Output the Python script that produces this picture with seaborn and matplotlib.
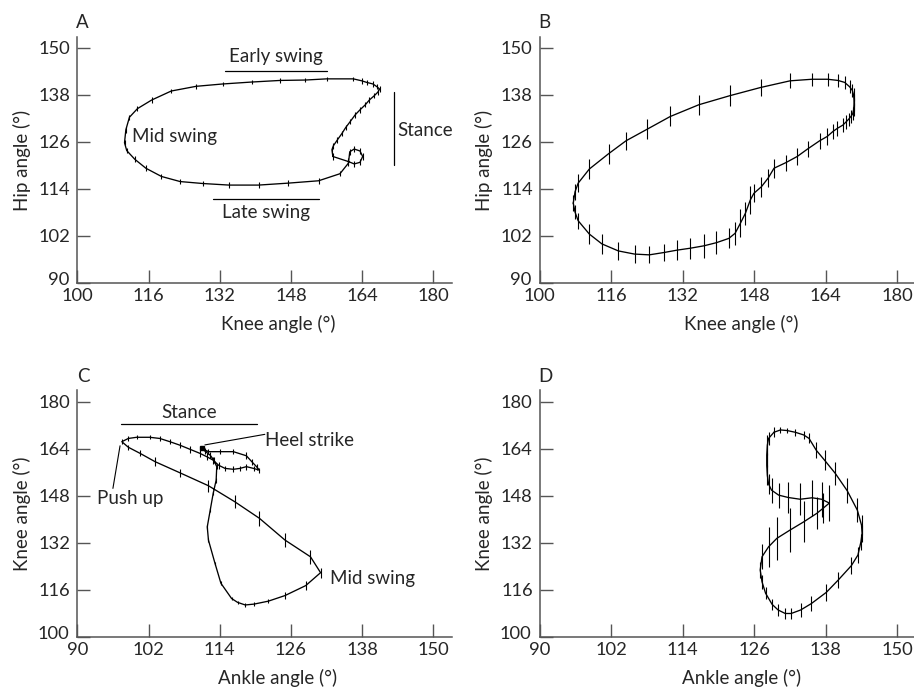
import matplotlib
matplotlib.use("Agg")
import matplotlib.pyplot as plt
import matplotlib.transforms as mtransforms
import numpy as np
import pandas as pd
import seaborn as sns

# --- panel A: hip vs knee (left) ---
a_knee = [157.4, 157.2, 157.5, 158.4, 159.4, 160.3, 161.3, 162.4, 163.5, 164.7, 165.6, 166.7, 167.5, 167.9,
          167.3, 166.4, 165.0, 163.9, 162.0, 156.0, 151.2, 145.6, 139.3, 132.7, 126.7, 121.1, 116.7, 113.5,
          111.7, 110.9, 110.6, 111.1, 112.9, 115.4, 118.9, 123.1, 128.2, 134.1, 140.7, 147.4, 154.2, 159.0,
          160.9, 161.2, 162.2, 163.5, 164.1, 163.5, 162.2, 160.9]
a_hip = [122.2, 123.9, 124.9, 126.4, 128.0, 129.6, 131.1, 132.8, 134.1, 135.4, 136.6, 137.7, 138.6, 139.4,
         140.0, 140.7, 141.1, 141.5, 142.0, 142.0, 141.7, 141.6, 141.2, 140.7, 140.1, 138.9, 136.6, 134.4,
         132.2, 129.0, 125.7, 123.7, 121.5, 119.2, 117.1, 115.8, 115.3, 114.9, 114.9, 115.4, 116.0, 117.8,
         120.5, 123.4, 124.1, 123.6, 122.2, 120.7, 120.3, 120.9]
a_sd = [0.8, 0.8, 0.7, 0.7, 0.7, 0.7, 0.7, 0.7, 0.7, 0.7, 0.7, 0.7, 0.7, 0.8,
        0.7, 0.7, 0.7, 0.7, 0.6, 0.6, 0.6, 0.6, 0.6, 0.6, 0.6, 0.6, 0.7, 0.7,
        0.7, 0.7, 0.7, 0.7, 0.7, 0.7, 0.7, 0.7, 0.7, 0.7, 0.7, 0.7, 0.7, 0.7,
        0.8, 0.8, 0.8, 0.8, 0.8, 0.8, 0.8, 0.8]

# --- panel B: hip vs knee (right) ---
b_knee = [107.5, 107.9, 108.6, 111.1, 115.4, 119.3, 124.1, 129.2, 135.6, 142.5,
          149.4, 156.0, 160.9, 164.4, 166.7, 168.2, 169.3, 169.9, 170.2, 170.3,
          170.3, 170.2, 170.0, 169.6, 169.1, 168.5, 167.8, 166.6, 165.6, 164.3,
          162.6, 159.9, 157.6, 155.0, 152.4, 151.1, 149.6, 147.9, 147.1, 146.0,
          144.9, 143.7, 142.3, 139.5, 136.7, 133.7, 130.7, 127.8, 124.5, 121.2,
          117.6, 113.9, 111.1, 108.6, 107.9]
b_hip = [110.3, 113.2, 115.4, 119.0, 122.9, 126.2, 129.2, 132.4, 135.4, 137.7,
         139.8, 141.5, 141.9, 141.9, 141.6, 141.1, 140.0, 139.1, 137.9, 136.6,
         135.4, 134.1, 133.1, 132.4, 131.7, 131.0, 130.2, 129.4, 128.6, 127.3,
         126.2, 124.1, 122.2, 120.6, 119.2, 116.7, 114.5, 112.8, 111.1, 107.7,
         105.2, 102.6, 101.3, 100.2, 99.4, 98.8, 98.3, 97.7, 97.1, 97.3,
         98.1, 99.9, 102.4, 105.8, 108.0]
b_sd = [2.0, 2.0, 2.3, 2.55, 2.5, 2.35, 2.55, 2.55, 2.55, 2.7,
        2.2, 1.9, 1.65, 1.65, 1.65, 1.65, 1.65, 1.65, 1.65, 1.65,
        1.65, 1.65, 1.65, 1.65, 1.65, 1.7, 1.7, 1.9, 1.9, 2.1,
        2.1, 2.1, 2.1, 2.0, 2.4, 2.4, 2.55, 2.3, 3.5, 2.9,
        3.5, 3.0, 2.55, 3.0, 3.0, 2.7, 2.5, 2.2, 2.2, 2.35,
        2.35, 2.55, 2.5, 2.1, 1.8]

# --- panel C: knee vs ankle (left), starts at heel strike ---
c_ankle = [111.0, 112.1, 114.0, 116.3, 118.5, 119.4, 120.2, 120.7,
           119.7, 118.5, 117.4, 116.3, 114.9, 113.8, 112.9, 111.8, 110.7, 109.0, 107.3, 105.6, 103.9,
           102.2, 100.0, 98.6, 97.5,
           98.6, 100.6, 103.1, 107.3, 112.1, 116.5, 120.7, 125.0, 129.3, 131.0,
           128.5, 125.0, 122.2, 119.8, 118.3, 117.0, 116.0, 114.2, 113.2, 112.1, 111.9, 112.4, 112.9,
           113.4, 113.5, 113.0, 112.4, 111.5]
c_knee = [164.1, 163.0, 163.0, 163.0, 161.6, 159.6, 157.9, 156.7,
          157.3, 157.9, 157.3, 157.0, 157.3, 158.4, 160.1, 161.3, 162.4, 163.8, 165.2, 166.4, 167.5,
          167.9, 167.9, 167.5, 166.4,
          164.5, 162.4, 159.6, 155.8, 151.4, 146.0, 140.3, 132.9, 127.2, 121.8,
          117.4, 114.0, 112.1, 111.1, 110.8, 111.7, 113.0, 118.2, 125.0, 132.9, 137.4, 143.1, 148.8,
          153.3, 157.9, 160.1, 161.8, 163.2]
c_sd = [0.6, 0.8, 0.8, 0.8, 1.2, 1.0, 1.0, 0.9,
        0.9, 1.0, 0.9, 1.0, 0.9, 1.2, 1.2, 1.2, 1.1, 1.1, 1.0, 0.9, 0.7,
        0.7, 0.7, 0.7, 0.8,
        0.8, 1.0, 1.5, 1.4, 2.0, 2.3, 2.55, 2.3, 2.4, 1.7,
        1.6, 1.1, 0.7, 0.6, 0.6, 0.6, 0.6, 0.6, 0.6, 0.6, 0.6, 0.6, 0.7,
        0.8, 0.8, 1.0, 1.0, 1.0]

# --- panel D: knee vs ankle (right) ---
d_ankle = [129.3, 130.4, 131.5, 132.9, 134.3, 135.2, 136.4, 137.8, 139.6, 141.6, 143.3, 144.0, 144.1,
           143.9, 143.4, 142.3, 140.1, 138.1, 135.6, 133.8, 132.2, 131.2, 130.0, 129.0, 127.9, 127.3,
           127.0, 127.3, 128.4, 129.8, 132.0, 134.3, 136.5, 137.6,
           138.6, 137.3, 135.7, 133.7, 131.7, 130.1, 128.9, 128.4, 128.2, 128.1, 128.1, 128.2, 128.4]
d_knee = [169.6, 170.4, 170.2, 169.6, 168.7, 167.5, 163.5, 160.1, 155.6, 149.7, 143.1, 138.0, 135.2,
          132.3, 127.8, 124.2, 119.3, 115.1, 111.3, 109.1, 107.9, 107.9, 109.1, 111.0, 114.8, 118.7,
          122.7, 127.2, 130.6, 133.5, 136.3, 139.1, 142.0, 143.8,
          145.5, 146.8, 147.3, 146.8, 147.4, 148.2, 149.9, 152.0, 155.0, 158.4, 161.8, 165.2, 167.5]
d_sd = [1.7, 1.1, 0.9, 1.1, 1.4, 1.7, 2.8, 3.4, 4.0, 4.3, 4.0, 3.4, 2.8,
        2.8, 2.8, 2.8, 2.8, 2.8, 2.5, 2.3, 2.0, 2.0, 2.0, 2.0, 2.0, 2.3,
        2.8, 4.3, 6.8, 7.4, 7.4, 7.0, 5.5, 5.0,
        6.2, 6.0, 6.1, 5.4, 5.4, 4.3, 4.3, 3.4, 3.4, 4.0, 4.0, 3.4, 2.3]

hip_ticks = [90, 102, 114, 126, 138, 150]
knee_x_ticks = [100, 116, 132, 148, 164, 180]
knee_y_ticks = [100, 116, 132, 148, 164, 180]
ankle_ticks = [90, 102, 114, 126, 138, 150]

sns.set_style("ticks")
plt.rcParams['font.family'] = ['Lato', 'DejaVu Sans']
FS = 13.5
GREY = '#555555'

fig = plt.figure(figsize=(9.14, 6.91), dpi=100)


def loop_panel(ax, x, y, sd, xlim, ylim, xticks, yticks, xlabel, ylabel):
    """Draw one closed angle-angle loop with vertical SD bars."""
    df = pd.DataFrame({'x': list(x) + [x[0]], 'y': list(y) + [y[0]]})
    sns.lineplot(data=df, x='x', y='y', sort=False, estimator=None,
                 color='black', linewidth=0.95, ax=ax)
    ax.errorbar(x, y, yerr=sd, fmt='none', ecolor='black', elinewidth=0.8, capsize=0)
    ax.set_xlim(*xlim)
    ax.set_ylim(*ylim)
    ax.set_xticks(xticks)
    ax.set_yticks(yticks)
    ax.tick_params(direction='in', length=9.5, width=1, color=GREY, labelsize=FS - 0.3)
    ax.tick_params(axis='x', pad=4)
    ax.tick_params(axis='y', pad=5)
    sns.despine(ax=ax)
    for s in ('left', 'bottom'):
        ax.spines[s].set_color(GREY)
        ax.spines[s].set_linewidth(1.1)
    ax.set_xlabel(xlabel, fontsize=FS)
    ax.set_ylabel(ylabel, fontsize=FS)
    ax.xaxis.set_label_coords(0.536, -0.13)
    ax.yaxis.set_label_coords(-0.125, 0.5)
    ax.patch.set_alpha(0)
    # lift the bottom y label a touch so it clears the first x label at the corner
    lab0 = ax.get_yticklabels()[0]
    lab0.set_transform(lab0.get_transform() +
                       mtransforms.ScaledTranslation(-1 / 100, 4 / 100, fig.dpi_scale_trans))


axA = fig.add_axes([0.0846, 0.5909, 0.4096, 0.3551])
loop_panel(axA, a_knee, a_hip, a_sd, (100, 184.1), (90, 152.6), knee_x_ticks, hip_ticks,
           'Knee angle (°)', 'Hip angle (°)')
axA.plot([133.2, 156.0], [144.1, 144.1], color='black', lw=0.9)
axA.text(144.6, 145.5, 'Early swing', ha='center', va='bottom', fontsize=FS)
axA.plot([130.4, 154.3], [111.4, 111.4], color='black', lw=0.9)
axA.text(142.3, 110.0, 'Late swing', ha='center', va='top', fontsize=FS)
axA.text(112.2, 127.3, 'Mid swing', ha='left', va='center', fontsize=FS)
axA.plot([171.2, 171.2], [119.9, 138.6], color='black', lw=0.9)
axA.text(171.9, 128.8, 'Stance', ha='left', va='center', fontsize=FS)

axB = fig.add_axes([0.5905, 0.5909, 0.4114, 0.3551])
loop_panel(axB, b_knee, b_hip, b_sd, (100, 184.1), (90, 152.6), knee_x_ticks, hip_ticks,
           'Knee angle (°)', 'Hip angle (°)')

axC = fig.add_axes([0.0846, 0.0786, 0.4096, 0.3570])
loop_panel(axC, c_ankle, c_knee, c_sd, (90, 153.1), (100, 184.0), ankle_ticks, knee_y_ticks,
           'Ankle angle (°)', 'Knee angle (°)')
# heel strike marker on the first sample
axC.plot(c_ankle[:1], c_knee[:1], marker='s', ms=3, color='black', ls='none')
axC.plot([97.4, 120.3], [172.3, 172.3], color='black', lw=0.9)
axC.text(108.8, 173.6, 'Stance', ha='center', va='bottom', fontsize=FS)
axC.plot([111.5, 121.6], [165.3, 168.9], color='black', lw=0.8)
axC.text(121.7, 166.9, 'Heel strike', ha='left', va='center', fontsize=FS)
axC.plot([97.2, 96.0], [165.0, 150.5], color='black', lw=0.8)
axC.text(93.3, 146.9, 'Push up', ha='left', va='center', fontsize=FS)
axC.text(132.6, 119.9, 'Mid swing', ha='left', va='center', fontsize=FS)

axD = fig.add_axes([0.5905, 0.0786, 0.4114, 0.3570])
loop_panel(axD, d_ankle, d_knee, d_sd, (90, 153.1), (100, 184.0), ankle_ticks, knee_y_ticks,
           'Ankle angle (°)', 'Knee angle (°)')

for lab, (px, py) in zip('ABCD', [(82.7, 23), (544, 23), (83, 377), (545, 377)]):
    fig.text(px / 914, 1 - py / 691, lab, ha='center', va='center', fontsize=FS)

fig.savefig('out.png', dpi=100)
